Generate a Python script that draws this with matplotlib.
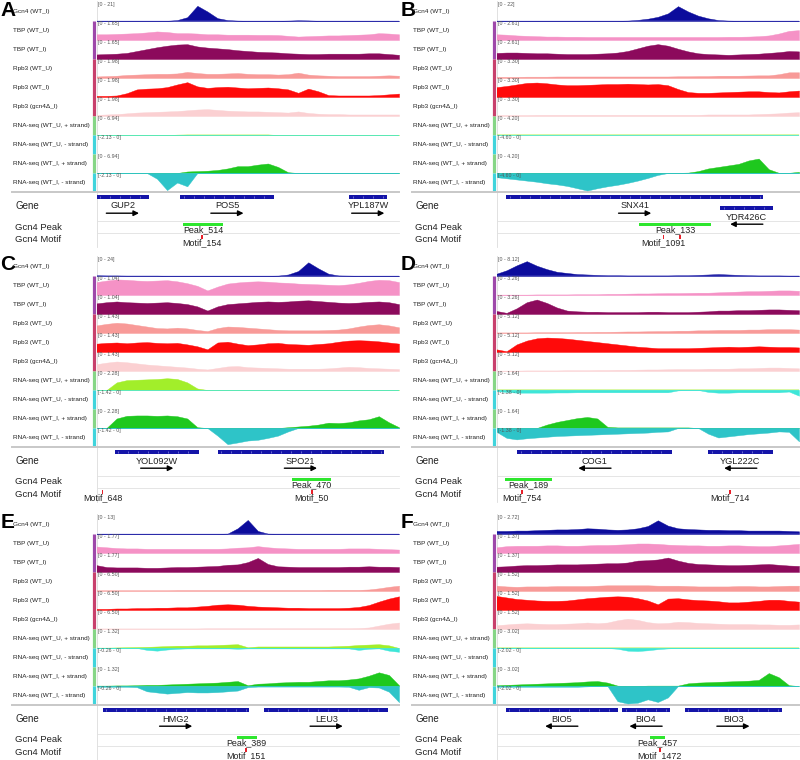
import numpy as np
import matplotlib.pyplot as plt

plt.rcParams['font.family'] = ['Liberation Sans', 'DejaVu Sans']

# signal tracks, 31 samples across the locus, in percent of the track's data range
gcn4 = {
    'A': [1, 1, 1, 1, 1, 1, 1, 1, 5, 20, 80, 50, 15, 5, 2, 1, 1, 1, 1, 2, 4, 3, 1, 1, 1, 1, 1, 1, 1, 1, 1],
    'B': [1, 1, 1, 1, 1, 1, 1, 1, 1, 1, 1, 1, 1, 2, 6, 12, 22, 40, 78, 50, 28, 14, 5, 2, 1, 1, 1, 1, 1, 1, 1],
    'C': [4, 3, 3, 2, 2, 2, 2, 1, 1, 1, 1, 1, 1, 1, 1, 1, 1, 1, 2, 8, 26, 72, 40, 12, 3, 2, 1, 1, 1, 1, 1],
    'D': [12, 30, 56, 78, 54, 36, 22, 16, 10, 8, 6, 4, 4, 3, 3, 3, 3, 3, 4, 4, 6, 8, 10, 8, 6, 4, 3, 3, 3, 2, 2],
    'E': [1, 1, 1, 1, 1, 1, 1, 1, 1, 1, 1, 1, 1, 2, 30, 74, 16, 2, 1, 1, 1, 1, 1, 1, 1, 1, 1, 1, 1, 1, 1],
    'F': [16, 16, 18, 18, 20, 22, 24, 24, 26, 30, 28, 24, 22, 24, 30, 42, 72, 44, 30, 26, 24, 22, 22, 20, 20, 18, 18, 18, 18, 16, 14],
}
tbp_u = {
    'A': [30, 30, 32, 34, 36, 40, 45, 42, 36, 36, 34, 30, 30, 28, 28, 28, 27, 27, 26, 22, 18, 20, 22, 24, 24, 26, 28, 30, 36, 34, 30],
    'B': [30, 28, 24, 22, 20, 18, 18, 17, 17, 16, 16, 16, 16, 16, 16, 16, 16, 16, 16, 16, 16, 16, 16, 17, 17, 18, 20, 24, 34, 48, 52],
    'C': [68, 76, 82, 80, 76, 74, 76, 78, 72, 62, 48, 24, 44, 60, 66, 70, 72, 70, 66, 64, 60, 58, 56, 54, 52, 56, 64, 74, 80, 78, 68],
    'D': [2, 2, 2, 2, 3, 3, 3, 3, 4, 4, 4, 6, 6, 7, 8, 8, 9, 10, 10, 11, 12, 12, 14, 16, 18, 20, 20, 22, 24, 24, 22],
    'E': [34, 30, 26, 24, 24, 22, 22, 22, 22, 22, 22, 22, 22, 24, 28, 30, 36, 30, 26, 24, 22, 22, 22, 22, 22, 24, 24, 24, 22, 20, 18],
    'F': [30, 36, 38, 38, 38, 40, 40, 38, 38, 40, 42, 42, 44, 46, 50, 50, 48, 44, 42, 40, 40, 38, 38, 40, 40, 38, 36, 36, 40, 44, 48],
}
tbp_i = {
    'A': [24, 26, 28, 32, 42, 52, 62, 70, 76, 78, 66, 60, 56, 52, 46, 42, 38, 36, 34, 30, 28, 26, 26, 28, 28, 28, 28, 30, 30, 26, 22],
    'B': [32, 34, 34, 32, 30, 30, 28, 26, 26, 26, 28, 30, 34, 42, 56, 70, 78, 70, 54, 40, 30, 26, 24, 22, 24, 26, 28, 32, 36, 42, 40],
    'C': [56, 62, 66, 62, 60, 58, 60, 62, 58, 52, 40, 18, 40, 52, 56, 60, 64, 66, 64, 66, 70, 72, 68, 64, 60, 58, 60, 64, 66, 62, 52],
    'D': [16, 6, 30, 62, 76, 58, 34, 18, 14, 12, 12, 10, 10, 10, 10, 12, 12, 10, 10, 10, 12, 14, 18, 18, 20, 20, 22, 24, 24, 22, 20],
    'E': [36, 26, 24, 24, 24, 22, 22, 24, 26, 26, 28, 30, 32, 38, 40, 52, 74, 42, 30, 28, 26, 26, 26, 26, 26, 28, 28, 30, 28, 28, 26],
    'F': [28, 30, 34, 36, 36, 38, 40, 40, 40, 42, 44, 46, 46, 50, 60, 62, 66, 76, 60, 48, 42, 40, 38, 36, 36, 38, 40, 42, 38, 34, 32],
}
rpb3_u = {
    'A': [8, 10, 12, 16, 18, 20, 22, 22, 24, 32, 26, 22, 22, 24, 26, 22, 20, 20, 18, 20, 28, 18, 14, 12, 10, 10, 10, 10, 12, 14, 12],
    'B': [6, 6, 6, 7, 7, 7, 8, 8, 8, 8, 8, 8, 8, 8, 8, 8, 8, 8, 9, 9, 10, 10, 12, 12, 12, 13, 14, 14, 20, 30, 30],
    'C': [40, 48, 54, 50, 42, 34, 26, 24, 28, 24, 16, 10, 26, 34, 32, 28, 24, 20, 16, 14, 14, 14, 14, 16, 18, 24, 34, 42, 46, 40, 30],
    'D': [3, 3, 3, 3, 4, 4, 4, 4, 5, 5, 6, 6, 7, 8, 8, 9, 10, 10, 12, 12, 14, 14, 16, 16, 16, 18, 18, 20, 20, 20, 18],
    'E': [4, 4, 4, 4, 4, 4, 4, 4, 5, 5, 5, 5, 5, 5, 5, 5, 5, 5, 5, 5, 5, 5, 5, 6, 6, 6, 6, 8, 14, 22, 28],
    'F': [28, 24, 22, 24, 24, 24, 26, 26, 26, 26, 28, 30, 30, 30, 30, 30, 28, 28, 28, 26, 24, 24, 24, 24, 26, 26, 24, 24, 26, 28, 28],
}
rpb3_i = {
    'A': [6, 6, 8, 20, 40, 44, 46, 52, 66, 78, 56, 48, 52, 54, 50, 46, 48, 50, 46, 40, 22, 44, 30, 10, 8, 8, 8, 8, 10, 14, 18],
    'B': [52, 58, 66, 74, 76, 72, 66, 62, 62, 64, 66, 68, 68, 70, 68, 66, 68, 62, 42, 26, 22, 22, 24, 26, 28, 30, 30, 26, 24, 30, 34],
    'C': [44, 48, 50, 46, 50, 52, 48, 46, 48, 40, 30, 14, 50, 54, 44, 36, 40, 46, 48, 42, 40, 38, 42, 46, 54, 60, 62, 60, 56, 50, 44],
    'D': [14, 4, 40, 60, 72, 76, 74, 70, 64, 58, 52, 46, 40, 34, 28, 24, 20, 20, 20, 20, 22, 24, 26, 28, 26, 28, 30, 28, 26, 26, 24],
    'E': [6, 6, 8, 8, 10, 10, 12, 12, 14, 14, 18, 22, 28, 30, 28, 22, 18, 16, 14, 12, 12, 10, 10, 10, 10, 12, 16, 26, 44, 60, 72],
    'F': [74, 66, 58, 54, 50, 48, 48, 50, 56, 62, 66, 70, 72, 70, 62, 50, 30, 60, 62, 56, 52, 50, 46, 40, 40, 44, 48, 54, 54, 48, 44],
}
rpb3_d = {
    'A': [6, 8, 10, 14, 18, 20, 22, 24, 26, 30, 34, 36, 32, 28, 26, 24, 24, 22, 20, 18, 24, 16, 12, 10, 10, 8, 8, 8, 8, 8, 8],
    'B': [5, 5, 5, 5, 6, 6, 6, 6, 6, 6, 6, 6, 6, 6, 6, 6, 6, 6, 6, 6, 6, 8, 8, 8, 8, 8, 10, 12, 14, 18, 20],
    'C': [36, 44, 50, 46, 40, 34, 30, 26, 22, 18, 12, 8, 16, 24, 26, 20, 18, 16, 14, 12, 12, 12, 12, 14, 18, 22, 20, 16, 14, 12, 10],
    'D': [2, 2, 2, 3, 3, 3, 3, 4, 4, 4, 5, 5, 6, 6, 7, 8, 8, 9, 10, 10, 10, 12, 12, 12, 14, 14, 16, 18, 18, 16, 14],
    'E': [3, 3, 3, 3, 3, 3, 3, 3, 3, 3, 3, 4, 4, 4, 4, 4, 4, 4, 4, 4, 4, 4, 4, 4, 4, 4, 5, 8, 18, 28, 34],
    'F': [20, 24, 28, 30, 28, 26, 26, 28, 30, 34, 30, 34, 46, 54, 48, 36, 30, 32, 38, 36, 32, 30, 28, 26, 26, 26, 24, 24, 22, 22, 24],
}
rna_u_plus = {
    'A': [0, 0, 0, 0, 0, 0, 0, 0, 2, 3, 3, 3, 3, 3, 3, 3, 3, 3, 0, 0, 0, 0, 0, 0, 0, 0, 0, 0, 0, 0, 0],
    'B': [2, 2, 2, 2, 2, 2, 2, 2, 2, 2, 2, 2, 2, 2, 2, 2, 2, 2, 2, 2, 2, 2, 2, 2, 2, 2, 2, 2, 2, 2, 2],
    'C': [0, 0, 40, 52, 54, 56, 58, 62, 58, 40, 8, 0, 0, 0, 0, 0, 0, 0, 0, 0, 0, 0, 0, 0, 0, 0, 0, 0, 0, 0, 0],
    'D': [0, 0, 0, 0, 0, 0, 0, 0, 0, 0, 0, 0, 0, 0, 0, 0, 0, 0, 0, 0, 0, 0, 0, 0, 0, 0, 0, 0, 0, 0, 0],
    'E': [2, 2, 3, 4, 5, 6, 8, 10, 12, 12, 14, 14, 16, 18, 20, 4, 8, 8, 8, 8, 8, 8, 8, 8, 10, 12, 16, 18, 20, 14, 0],
    'F': [1, 1, 1, 1, 1, 1, 1, 1, 1, 1, 1, 1, 1, 1, 1, 1, 1, 1, 1, 1, 1, 1, 1, 1, 1, 1, 1, 1, 1, 1, 1],
}
rna_u_minus = {
    'A': [0, 0, 0, 0, 0, 0, 0, 0, 0, 0, 0, 0, 0, 0, 0, 0, 0, 0, 0, 0, 0, 0, 0, 0, 0, 0, 0, 0, 0, 0, 0],
    'B': [0, 0, 0, 0, 0, 0, 0, 0, 0, 0, 0, 0, 0, 0, 0, 0, 0, 0, 0, 0, 0, 0, 0, 0, 0, 0, 0, 0, 0, 0, 0],
    'C': [0, 0, 0, 0, 0, 0, 0, 0, 0, 0, 0, 0, 0, 0, 0, 0, 0, 0, 0, 0, 0, 0, 0, 0, 0, 0, 0, 0, 0, 0, 0],
    'D': [-6, -10, -14, -14, -14, -14, -13, -13, -12, -12, -12, -12, -12, -12, -12, -12, -12, -12, -2, 0, 0, -10, -14, -14, -12, -12, -12, -12, -12, -8, -30],
    'E': [0, 0, 0, 0, 0, -10, -14, -8, -4, -2, -2, -2, -2, -2, -4, -2, -2, -2, -2, -2, -2, -2, -2, -2, -2, -2, -10, -4, -2, -14, -20],
    'F': [0, 0, 0, 0, 0, 0, 0, 0, 0, 0, 0, 0, -4, -14, -16, -12, -6, -2, 0, 0, 0, 0, 0, 0, 0, 0, 0, 0, 0, 0, 0],
}
rna_i_plus = {
    'A': [0, 0, 0, 0, 0, 0, 0, 0, 0, 8, 10, 12, 16, 24, 36, 36, 44, 50, 32, 4, 0, 0, 0, 0, 0, 0, 0, 0, 0, 0, 0],
    'B': [1, 1, 1, 1, 1, 1, 1, 1, 1, 1, 1, 1, 1, 1, 1, 1, 1, 1, 1, 2, 10, 24, 32, 40, 48, 66, 76, 20, 1, 1, 6],
    'C': [0, 0, 50, 64, 66, 66, 64, 66, 62, 50, 4, 0, 0, 0, 0, 0, 0, 0, 0, 4, 8, 12, 18, 28, 26, 30, 40, 46, 62, 30, 4],
    'D': [0, 0, 0, 0, 0, 18, 32, 42, 52, 58, 50, 6, 3, 3, 3, 3, 3, 3, 3, 3, 0, 0, 0, 0, 0, 0, 0, 0, 0, 0, 0],
    'E': [2, 2, 3, 3, 4, 6, 6, 8, 10, 12, 14, 16, 18, 22, 26, 4, 12, 14, 18, 20, 22, 22, 26, 30, 30, 34, 40, 54, 72, 58, 4],
    'F': [4, 6, 8, 10, 12, 14, 16, 18, 20, 24, 26, 18, 2, 0, 0, 2, 2, 2, 2, 14, 18, 20, 22, 24, 26, 28, 32, 68, 46, 4, 0],
}
rna_i_minus = {
    'A': [0, 0, 0, 0, 0, 0, -30, -90, -50, -70, 0, 0, 0, 0, 0, 0, 0, 0, 0, 0, 0, 0, 0, 0, 0, 0, 0, 0, 0, 0, 0],
    'B': [-22, -28, -34, -40, -46, -54, -60, -68, -80, -92, -80, -70, -62, -52, -40, -26, -10, 0, 0, 0, 0, 0, 0, 0, 0, 0, 0, 0, 0, 0, 0],
    'C': [0, 0, 0, 0, 0, 0, 0, 0, 0, 0, 0, 0, -40, -85, -76, -66, -62, -52, -40, -18, 0, 0, 0, 0, 0, 0, 0, 0, 0, 0, 0],
    'D': [-20, -52, -60, -54, -50, -46, -42, -40, -38, -36, -34, -32, -30, -28, -26, -24, -20, -18, 0, 0, 0, -30, -50, -44, -38, -32, -28, -24, -18, -20, -70],
    'E': [-4, -4, -4, -4, -6, -28, -34, -40, -36, -32, -34, -34, -32, -28, -24, -6, -3, -3, -3, -3, -3, -3, -3, -3, -3, -4, -20, -6, -8, -30, -85],
    'F': [-4, -4, -4, -4, -4, -4, -4, -4, -4, -2, 0, 0, -80, -92, -88, -70, -84, -60, 0, 0, 0, 0, 0, 0, 0, 0, 0, 0, 0, 0, 0],
}

# data ranges shown in the browser
gcn4_range = {'A': '21', 'B': '22', 'C': '24', 'D': '8.12', 'E': '13', 'F': '2.72'}
tbp_range = {'A': '1.65', 'B': '2.61', 'C': '1.04', 'D': '3.26', 'E': '1.77', 'F': '1.37'}
rpb3_range = {'A': '1.98', 'B': '3.30', 'C': '1.43', 'D': '5.12', 'E': '6.50', 'F': '1.52'}
plus_range = {'A': '6.94', 'B': '4.20', 'C': '2.28', 'D': '1.64', 'E': '1.32', 'F': '3.02'}
minus_range = {'A': '-2.13', 'B': '-4.60', 'C': '-1.42', 'D': '-1.38', 'E': '-0.26', 'F': '-2.02'}

# annotation features, positions as fraction of the locus
gene_names = {'A': ['GUP2', 'POS5', 'YPL187W'], 'B': ['SNX41', 'YDR426C'], 'C': ['YOL092W', 'SPO21'],
              'D': ['COG1', 'YGL222C'], 'E': ['HMG2', 'LEU3'], 'F': ['BIO5', 'BIO4', 'BIO3']}
gene_start = {'A': [0.0, 0.277, 0.836], 'B': [0.033, 0.74], 'C': [0.06, 0.40],
              'D': [0.069, 0.70], 'E': [0.02, 0.555], 'F': [0.03, 0.415, 0.622]}
gene_end = {'A': [0.173, 0.587, 0.959], 'B': [0.882, 0.913], 'C': [0.34, 0.95],
            'D': [0.58, 0.913], 'E': [0.505, 0.965], 'F': [0.40, 0.572, 0.943]}
gene_strand = {'A': [1, 1, 1], 'B': [1, -1], 'C': [1, 1], 'D': [-1, -1], 'E': [1, 1], 'F': [-1, -1, 1]}
gene_row = {'A': [0, 0, 0], 'B': [0, 1], 'C': [0, 0], 'D': [0, 0], 'E': [0, 0], 'F': [0, 0, 0]}

peak_name = {'A': 'Peak_514', 'B': 'Peak_133', 'C': 'Peak_470', 'D': 'Peak_189', 'E': 'Peak_389', 'F': 'Peak_457'}
peak_start = {'A': 0.286, 'B': 0.47, 'C': 0.645, 'D': 0.028, 'E': 0.463, 'F': 0.506}
peak_end = {'A': 0.418, 'B': 0.71, 'C': 0.775, 'D': 0.185, 'E': 0.529, 'F': 0.556}

motif_pos = {'A': [0.348], 'B': [0.552, 0.607], 'C': [0.02, 0.712], 'D': [0.083, 0.772], 'E': [0.494], 'F': [0.54]}
motif_name = {'A': ['Motif_154'], 'B': ['Motif_1091', ''], 'C': ['Motif_648', 'Motif_50'],
              'D': ['Motif_754', 'Motif_714'], 'E': ['Motif_151'], 'F': ['Motif_1472']}

track_names = ['Gcn4 (WT_I)', 'TBP (WT_U)', 'TBP (WT_I)', 'Rpb3 (WT_U)', 'Rpb3 (WT_I)', 'Rpb3 (gcn4\u0394_I)',
               'RNA-seq (WT_U, + strand)', 'RNA-seq (WT_U, - strand)', 'RNA-seq (WT_I, + strand)',
               'RNA-seq (WT_I, - strand)']
track_colors = ['#0c0c9c', '#f592c6', '#8c0a5c', '#f89a98', '#ff0a0a', '#fbd0d2',
                '#a2ee2a', '#3ee6d8', '#1ec81e', '#2ec4c8']
panel_origin = {'A': (0, 0), 'B': (400, 0), 'C': (0, 255), 'D': (400, 255), 'E': (0, 513), 'F': (400, 513)}

W, H = 800, 760
TRACK_X, TRACK_W, TRACK_H = 96.5, 302.5, 19


def px_rect(x, y, w, h):
    return [x / W, 1 - (y + h) / H, w / W, h / H]


fig = plt.figure(figsize=(8, 7.6), dpi=100)
fig.patch.set_facecolor('white')

bg = fig.add_axes([0, 0, 1, 1])
bg.set_xlim(0, W)
bg.set_ylim(H, 0)
bg.axis('off')

for p, (x0, top) in panel_origin.items():
    series = [gcn4[p], tbp_u[p], tbp_i[p], rpb3_u[p], rpb3_i[p], rpb3_d[p],
              rna_u_plus[p], rna_u_minus[p], rna_i_plus[p], rna_i_minus[p]]
    ranges = [gcn4_range[p], tbp_range[p], tbp_range[p], rpb3_range[p], rpb3_range[p], rpb3_range[p],
              plus_range[p], minus_range[p], plus_range[p], minus_range[p]]

    # --- left side: letter, track names, group bars ---
    bg.text(x0 + 0.5, top + 10, p, fontsize=15, fontweight='bold', va='center', ha='left')
    for k, name in enumerate(track_names):
        bg.text(x0 + 13, top + 2 + TRACK_H * k + 9.5, name, fontsize=4.6, va='center', ha='left', color='#222222')
    group_bars = [(1, 3, '#9e48aa'), (3, 6, '#c8406c'), (6, 7, '#86d686'), (7, 8, '#40d4dc'),
                  (8, 9, '#86d686'), (9, 10, '#40d4dc')]
    for k0, k1, c in group_bars:
        bg.plot([x0 + 93.5, x0 + 93.5], [top + 2 + TRACK_H * k0, top + 2 + TRACK_H * k1],
                color=c, lw=2.3, solid_capstyle='butt')
    bg.plot([x0 + TRACK_X, x0 + TRACK_X], [top + 1, top + 247], color='#dcdcdc', lw=0.6)
    bg.plot([x0 + 12, x0 + 399], [top + 192, top + 192], color='#c8c8c8', lw=1.4)
    for yy in (221, 233):
        bg.plot([x0 + TRACK_X, x0 + 399], [top + yy, top + yy], color='#e0e0e0', lw=0.6)
    bg.text(x0 + 15, top + 206, 'Gene', fontsize=7, va='center', color='#222222')
    bg.text(x0 + 15, top + 227, 'Gcn4 Peak', fontsize=6.8, va='center', color='#222222')
    bg.text(x0 + 15, top + 239.5, 'Gcn4 Motif', fontsize=6.8, va='center', color='#222222')

    # --- signal tracks ---
    for k, vals in enumerate(series):
        ax = fig.add_axes(px_rect(x0 + TRACK_X, top + 2 + TRACK_H * k, TRACK_W, TRACK_H))
        ax.axis('off')
        v = np.array(vals, dtype=float)
        pos = np.linspace(0, 1, len(v))
        neg = k in (7, 9)
        ax.set_xlim(0, 1)
        ax.set_ylim((-100, 0) if neg else (0, 100))
        ax.fill_between(pos, v, 0, color=track_colors[k], lw=0.3, edgecolor=track_colors[k])
        if k == 0:
            ax.axhline(0, color='#8c8ce6', lw=1.0)
        elif k >= 6:
            ax.axhline(0, color=track_colors[k], lw=0.5, alpha=0.8)
        lab = f'[{ranges[k]} - 0]' if neg else f'[0 - {ranges[k]}]'
        ax.text(0.006, 0.98, lab, transform=ax.transAxes, fontsize=3.8, color='#555555', va='top', ha='left')

    # --- gene / peak / motif annotation rows ---
    ga = fig.add_axes(px_rect(x0 + TRACK_X, top + 192, TRACK_W, 56))
    ga.set_xlim(0, 1)
    ga.set_ylim(56, 0)
    ga.axis('off')
    for name, s, e, st, row in zip(gene_names[p], gene_start[p], gene_end[p], gene_strand[p], gene_row[p]):
        yb = 4.7 + 11 * row
        ga.barh(yb, e - s, left=s, height=3.8, color='#1414a8')
        ticks = np.arange(s + 0.012, e - 0.005, 0.033)
        ga.plot(ticks, np.full(len(ticks), yb), '|', color='#8a8ae0', ms=1.6, mew=0.5)
        c = (s + e) / 2
        ga.text(c, yb + 9.3, name, fontsize=6.6, ha='center', va='center', color='#222222')
        ga.annotate('', xy=(c + st * 0.054, yb + 16.5), xytext=(c - st * 0.054, yb + 16.5),
                    arrowprops=dict(arrowstyle='-|>', color='black', lw=1.0, mutation_scale=8,
                                    shrinkA=0, shrinkB=0), annotation_clip=False)
    ga.barh(32.7, peak_end[p] - peak_start[p], left=peak_start[p], height=2.8, color='#2ee62e')
    ga.text((peak_start[p] + peak_end[p]) / 2, 37.3, peak_name[p], fontsize=6.4, ha='center', va='center',
            color='#222222')
    for m, mn in zip(motif_pos[p], motif_name[p]):
        ga.barh(45.2, 0.006, left=m - 0.003, height=3.6, color='#e8202a', zorder=3)
        if mn:
            ga.text(m, 50.3, mn, fontsize=6.4, ha='center', va='center', color='#222222', clip_on=False)

fig.savefig('out.png', dpi=100, facecolor='white')
